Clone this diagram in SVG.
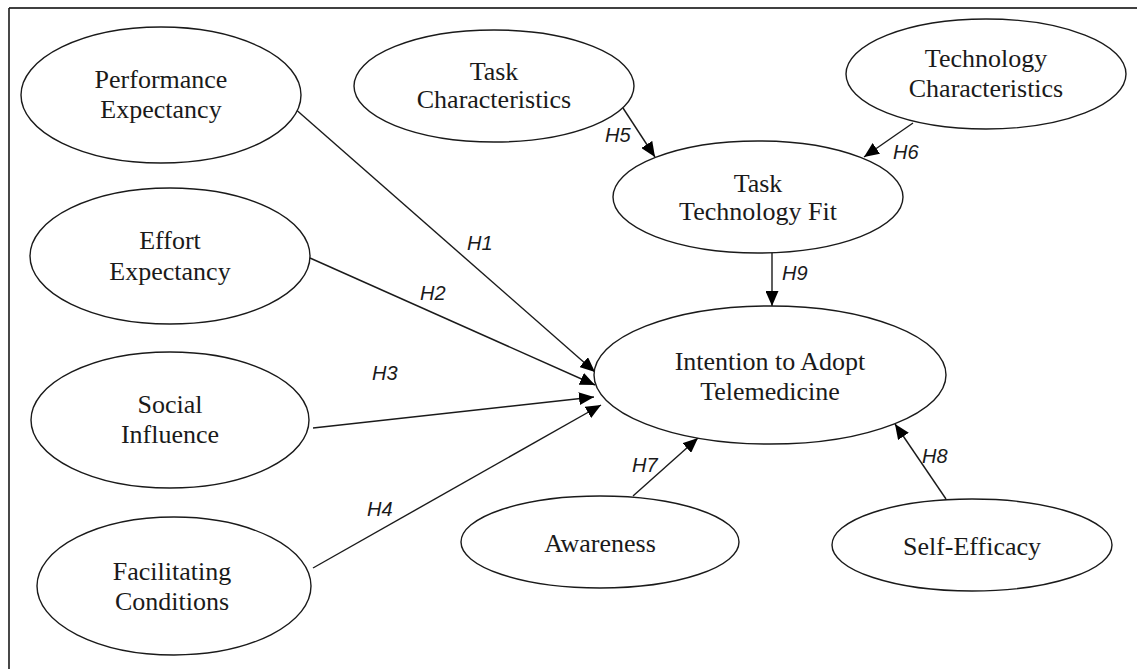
<svg xmlns="http://www.w3.org/2000/svg" width="1137" height="669" viewBox="0 0 1137 669">
<defs>
<style>
.node ellipse{fill:#fff;stroke:#1a1a1a;stroke-width:1.4}
.node text{font-family:"Liberation Serif","Times New Roman",serif;font-size:26px;fill:#1a1a1a;text-anchor:middle}
.edges line{stroke:#1a1a1a;stroke-width:1.4;marker-end:url(#arr)}
.lbl{font-family:"Liberation Sans",Arial,sans-serif;font-style:italic;font-size:20px;fill:#1a1a1a}
</style>
<marker id="arr" markerUnits="userSpaceOnUse" markerWidth="15" markerHeight="13" refX="15" refY="6.5" orient="auto">
<path d="M0,0 L15,6.5 L0,13 Z" fill="#000"/>
</marker>
</defs>
<rect width="1137" height="669" fill="#fff"/>
<g id="frame">
<line x1="9" y1="8" x2="1137" y2="8" stroke="#404040" stroke-width="2"/>
<line x1="9" y1="8" x2="9" y2="669" stroke="#1a1a1a" stroke-width="1.6"/>
</g>
<g id="edges" class="edges">
<line x1="293" y1="107" x2="595" y2="372"/>
<line x1="310" y1="258" x2="595" y2="385"/>
<line x1="313" y1="428" x2="594" y2="397"/>
<line x1="313" y1="568" x2="601" y2="405"/>
<line x1="623" y1="108" x2="655" y2="157"/>
<line x1="913" y1="123" x2="864" y2="157"/>
<line x1="772" y1="253" x2="772" y2="306"/>
<line x1="633" y1="496" x2="698" y2="438"/>
<line x1="946" y1="499" x2="895" y2="424"/>
</g>
<g id="labels">
<text class="lbl" x="467" y="250">H1</text>
<text class="lbl" x="420" y="300">H2</text>
<text class="lbl" x="372" y="380">H3</text>
<text class="lbl" x="367" y="516">H4</text>
<text class="lbl" x="605" y="142">H5</text>
<text class="lbl" x="893" y="159">H6</text>
<text class="lbl" x="632" y="472">H7</text>
<text class="lbl" x="922" y="463">H8</text>
<text class="lbl" x="782" y="280">H9</text>
</g>
<g id="pe" class="node"><ellipse cx="161" cy="95" rx="140" ry="68"/><text x="161" y="88">Performance</text><text x="161" y="118">Expectancy</text></g>
<g id="ee" class="node"><ellipse cx="170" cy="256" rx="140" ry="68"/><text x="170" y="249">Effort</text><text x="170" y="280">Expectancy</text></g>
<g id="si" class="node"><ellipse cx="170" cy="420" rx="139" ry="68"/><text x="170" y="413">Social</text><text x="170" y="443">Influence</text></g>
<g id="fc" class="node"><ellipse cx="174" cy="586" rx="137" ry="69"/><text x="172" y="580">Facilitating</text><text x="172" y="610">Conditions</text></g>
<g id="tc" class="node"><ellipse cx="494" cy="86" rx="140" ry="56"/><text x="494" y="80">Task</text><text x="494" y="108">Characteristics</text></g>
<g id="techc" class="node"><ellipse cx="986" cy="74" rx="140" ry="55"/><text x="986" y="67">Technology</text><text x="986" y="97">Characteristics</text></g>
<g id="ttf" class="node"><ellipse cx="758" cy="197" rx="145" ry="56"/><text x="758" y="192">Task</text><text x="758" y="220">Technology Fit</text></g>
<g id="ita" class="node"><ellipse cx="770" cy="375" rx="176" ry="69"/><text x="770" y="370">Intention to Adopt</text><text x="770" y="400">Telemedicine</text></g>
<g id="aw" class="node"><ellipse cx="600" cy="542" rx="139" ry="46"/><text x="600" y="552">Awareness</text></g>
<g id="se" class="node"><ellipse cx="972" cy="545" rx="140" ry="46"/><text x="972" y="555">Self-Efficacy</text></g>
</svg>
